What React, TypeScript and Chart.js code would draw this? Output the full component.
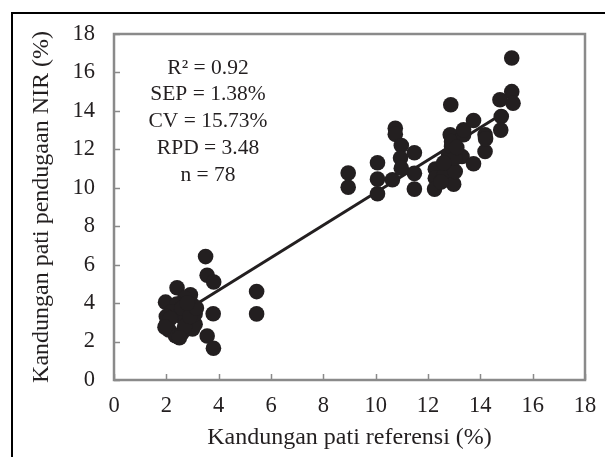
import React, { useEffect, useRef } from "react";
import { Chart, registerables } from "chart.js";

Chart.register(...registerables);

// ---- data ----
const REF_X: number[] = [
  // low group
  3.5, 3.56, 3.81, 5.45, 5.45, 3.79, 3.56, 3.8,
  2.41, 1.97, 2.92,
  2.0, 2.1, 2.35, 2.6, 3.0, 3.1, 3.1, 3.0, 2.7, 2.4, 2.2, 2.0, 2.5, 2.75, 2.85, 2.6, 2.15, 2.7, 2.9, 3.15, 2.5, 1.95, 2.8,
  // high group
  8.95, 8.95, 10.07, 10.07, 10.07, 10.64, 10.75, 10.75, 10.98, 10.95, 10.98,
  11.48, 11.48, 11.48, 12.28, 12.28, 12.25, 12.6, 12.72, 12.98, 13.04, 12.79,
  12.9, 12.85, 12.9, 13.3, 13.36, 13.36, 13.74, 13.74, 14.18, 14.18, 12.87,
  14.8, 14.78, 14.75, 15.2, 15.2, 15.25, 13.04, 12.6, 13.1, 12.5, 14.2,
];
const NIR_Y: number[] = [
  6.42, 5.45, 5.1, 4.6, 3.44, 3.45, 2.29, 1.65,
  4.8, 4.05, 4.43,
  2.9, 2.6, 2.3, 2.45, 2.65, 2.9, 3.45, 3.9, 4.25, 3.95, 3.55, 3.3, 3.35, 3.15, 3.6, 3.75, 3.2, 2.8, 3.3, 3.75, 2.2, 2.75, 4.0,
  10.77, 10.03, 11.3, 10.45, 9.69, 10.42, 13.1, 12.78, 12.2, 11.55, 11.02,
  11.82, 10.75, 9.93, 10.97, 10.5, 9.93, 10.6, 11.28, 10.19, 10.85, 11.72,
  12.15, 12.76, 12.4, 11.63, 12.76, 13.02, 13.5, 11.25, 12.76, 11.89, 14.32,
  13.71, 13.0, 14.58, 16.75, 15.0, 14.4, 11.55, 11.3, 12.1, 10.3, 12.55,
];
const FIT_SLOPE = 0.847;
const FIT_INTERCEPT = 1.28;
const FIT_X_RANGE: number[] = [3.0, 15.0];
const AXIS_TICKS: number[] = [0, 2, 4, 6, 8, 10, 12, 14, 16, 18];
const STATS_LINES: string[] = [
  "R\u00B2 = 0.92",
  "SEP = 1.38%",
  "CV = 15.73%",
  "RPD = 3.48",
  "n = 78",
];
const X_TITLE = "Kandungan pati referensi (%)";
const Y_TITLE = "Kandungan pati pendugaan NIR (%)";

const FONT = "'Liberation Serif', 'Times New Roman', serif";
const INK = "#231f20";
const AXIS_COLOR = "#8a8a8a";

const decorPlugin = {
  id: "decor",
  beforeDatasetsDraw(chart: any) {
    const { ctx, chartArea, scales } = chart;
    const { left, right, top, bottom } = chartArea;
    const xs = scales.x;
    const ys = scales.y;
    ctx.save();
    ctx.strokeStyle = AXIS_COLOR;
    ctx.lineWidth = 1.5;
    xs.ticks.forEach((t: any) => {
      const px = Math.round(xs.getPixelForValue(t.value)) + 0.5;
      ctx.beginPath();
      ctx.moveTo(px, bottom);
      ctx.lineTo(px, bottom - 6);
      ctx.stroke();
    });
    ys.ticks.forEach((t: any) => {
      const py = Math.round(ys.getPixelForValue(t.value)) + 0.5;
      ctx.beginPath();
      ctx.moveTo(left, py);
      ctx.lineTo(left + 6, py);
      ctx.stroke();
    });
    ctx.lineWidth = 2.5;
    ctx.strokeRect(left, top, right - left, bottom - top);
    ctx.restore();
  },
  afterDraw(chart: any) {
    const { ctx, chartArea } = chart;
    const { top, bottom } = chartArea;
    ctx.save();
    ctx.fillStyle = INK;
    // stats annotation
    ctx.font = `21.5px ${FONT}`;
    ctx.textAlign = "center";
    ctx.textBaseline = "middle";
    STATS_LINES.forEach((s, i) => {
      ctx.fillText(s, 208, 68 + i * 26.8);
    });
    // y axis title
    ctx.font = `24px ${FONT}`;
    ctx.translate(47.5, (top + bottom) / 2);
    ctx.rotate(-Math.PI / 2);
    ctx.textAlign = "center";
    ctx.textBaseline = "alphabetic";
    ctx.fillText(Y_TITLE, 0, 0);
    ctx.restore();
  },
};

export default function App() {
  const ref = useRef<HTMLCanvasElement | null>(null);

  useEffect(() => {
    if (!ref.current) return;
    const points = REF_X.map((x, i) => ({ x, y: NIR_Y[i] }));
    const fitLine = FIT_X_RANGE.map((x) => ({ x, y: FIT_SLOPE * x + FIT_INTERCEPT }));
    const chart = new Chart(ref.current, {
      type: "scatter",
      data: {
        datasets: [
          {
            label: "data",
            data: points,
            backgroundColor: INK,
            borderColor: INK,
            borderWidth: 0,
            pointRadius: 7.8,
            pointHoverRadius: 7.8,
            order: 0,
          },
          {
            type: "line",
            label: "fit",
            data: fitLine,
            borderColor: INK,
            borderWidth: 3,
            pointRadius: 0,
            fill: false,
            order: 1,
          } as any,
        ],
      },
      options: {
        animation: false,
        responsive: false,
        devicePixelRatio: 1,
        layout: { padding: { left: 0, right: 20, top: 34, bottom: 0 } },
        plugins: {
          legend: { display: false },
          tooltip: { enabled: false },
          title: { display: false },
        },
        scales: {
          x: {
            type: "linear",
            min: 0,
            max: 18,
            afterBuildTicks: (s: any) => {
              s.ticks = AXIS_TICKS.map((v) => ({ value: v }));
            },
            afterFit: (s: any) => {
              s.height = 77;
              s.paddingLeft = 0;
              s.paddingRight = 0;
            },
            grid: { display: false, drawTicks: false },
            border: { display: false },
            ticks: {
              padding: 13,
              maxRotation: 0,
              minRotation: 0,
              autoSkip: false,
              color: INK,
              font: { family: FONT, size: 22.5 },
            },
            title: {
              display: true,
              text: X_TITLE,
              color: INK,
              font: { family: FONT, size: 24 },
              padding: { top: 0, bottom: 5 },
            },
          },
          y: {
            type: "linear",
            min: 0,
            max: 18,
            afterBuildTicks: (s: any) => {
              s.ticks = AXIS_TICKS.map((v) => ({ value: v }));
            },
            afterFit: (s: any) => {
              s.width = 114;
              s.paddingTop = 0;
              s.paddingBottom = 0;
            },
            grid: { display: false, drawTicks: false },
            border: { display: false },
            ticks: {
              padding: 19,
              autoSkip: false,
              color: INK,
              font: { family: FONT, size: 22.5 },
            },
          },
        },
      },
      plugins: [decorPlugin],
    });
    return () => chart.destroy();
  }, []);

  return (
    <div
      style={{
        position: "fixed",
        left: 0,
        top: 0,
        width: 605,
        height: 457,
        overflow: "hidden",
        background: "#fff",
      }}
    >
      <div
        style={{
          position: "absolute",
          left: 11,
          top: 12,
          width: 800,
          height: 700,
          borderLeft: "2px solid #000",
          borderTop: "2px solid #000",
        }}
      />
      <canvas
        ref={ref}
        width={605}
        height={457}
        style={{ position: "absolute", left: 0, top: 0, width: 605, height: 457 }}
      />
    </div>
  );
}
